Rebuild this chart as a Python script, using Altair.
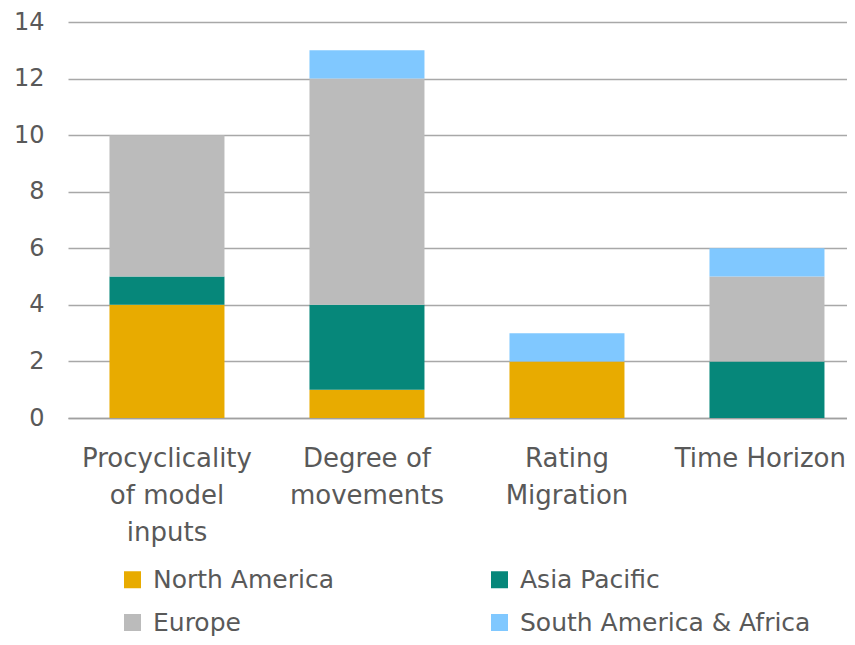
import altair as alt
import pandas as pd

categories = ["Procyclicality\nof model\ninputs", "Degree of\nmovements", "Rating\nMigration", "Time Horizon"]
regions = ["North America", "Asia Pacific", "Europe", "South America & Africa"]
colors = ["#E8AB00", "#06877A", "#BBBBBB", "#80C8FF"]
north_america = [4, 1, 2, 0]
asia_pacific = [1, 3, 0, 2]
europe = [5, 8, 0, 3]
south_america_africa = [0, 1, 1, 1]

series = [north_america, asia_pacific, europe, south_america_africa]
rows = []
for r_i, (reg, vals) in enumerate(zip(regions, series)):
    for c, v in zip(categories, vals):
        rows.append({"category": c, "region": reg, "value": v, "order": r_i})
df = pd.DataFrame(rows)

FONT = "DejaVu Sans"
TXT = "#595959"
last_test = "datum.value == 'Time Horizon'"

chart = alt.Chart(df).mark_bar().encode(
    x=alt.X("category:N", sort=categories, title=None,
            scale=alt.Scale(paddingInner=0.425, paddingOuter=0.16, align=0.648),
            axis=alt.Axis(labelAngle=0, labelExpr="split(datum.label, '\\n')",
                          labelFontSize=26, labelColor=TXT, labelFont=FONT,
                          labelLineHeight=37, labelPadding=48, ticks=False,
                          labelAlign={"condition": {"test": last_test, "value": "right"}, "value": "center"},
                          labelOffset={"condition": {"test": last_test, "value": 79}, "value": 0},
                          domainColor="#A0A0A0", domainWidth=1.5,
                          labelBaseline="alphabetic", labelLimit=400)),
    y=alt.Y("value:Q", stack="zero", title=None,
            scale=alt.Scale(domain=[0, 14], nice=False),
            axis=alt.Axis(values=[0, 2, 4, 6, 8, 10, 12, 14], labelFontSize=24,
                          labelColor=TXT, labelFont=FONT, labelPadding=24,
                          ticks=False, domain=False, gridColor="#A8A8A8",
                          gridWidth=1.3)),
    color=alt.Color("region:N", sort=regions,
                    scale=alt.Scale(domain=regions, range=colors),
                    legend=alt.Legend(title=None, orient="none", legendX=52, legendY=545,
                                      direction="horizontal",
                                      columns=2, columnPadding=153, rowPadding=17,
                                      symbolType="square", symbolSize=289,
                                      symbolStrokeWidth=0, labelFontSize=25,
                                      labelFont=FONT, labelColor=TXT, labelOffset=8,
                                      padding=0, labelLimit=400)),
    order=alt.Order("order:Q", sort="ascending"),
).properties(
    width=779, height=396,
    padding={"left": 60, "top": 14, "right": 0, "bottom": 219},
    autosize=alt.AutoSizeParams(type="none"),
).configure_view(stroke=None)

chart.save("out.html", embed_options={"renderer": "svg", "actions": False})
